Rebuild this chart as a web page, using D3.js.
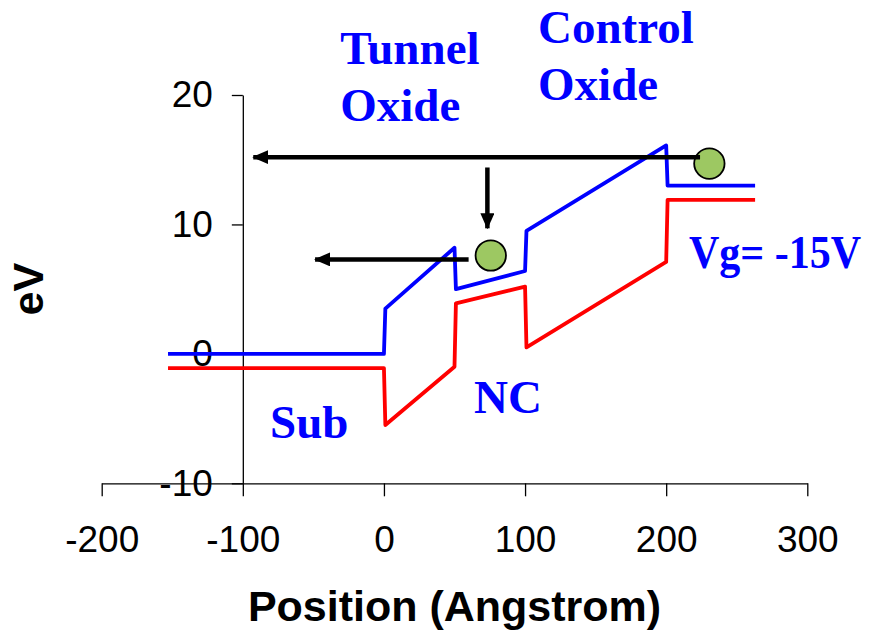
<!DOCTYPE html>
<html>
<head>
<meta charset="utf-8">
<script src="https://cdn.jsdelivr.net/npm/d3@7"></script>
<style>
  body { margin: 0; background: #fff; }
  svg { display: block; }
  .tick text { font-family: "Liberation Sans", Arial, sans-serif; font-size: 37px; fill: #000; }
  .axis path, .axis line { stroke: #000; stroke-width: 1.3px; }
  .lbl { font-family: "Liberation Serif", "Times New Roman", serif; font-weight: bold; font-size: 47px; fill: #0000ff; }
  .title { font-family: "Liberation Sans", Arial, sans-serif; font-weight: bold; font-size: 43px; fill: #000; }
</style>
</head>
<body>
<div id="chart"></div>
<script>
// band edges, [position (Angstrom), energy (eV)]
var conduction = [[-153, 0], [0, 0], [1, 3.5], [50, 8.2], [51, 5.0], [100, 6.4], [101, 9.5], [200, 16.1], [201, 13.0], [263, 13.0]];
var valence = [[-153, -1.1], [0, -1.1], [1, -5.5], [50, -1.0], [51, 3.9], [100, 5.2], [101, 0.5], [200, 7.1], [201, 11.9], [263, 11.9]];

// electrons (green dots)
var dots = [[230.6, 14.7], [75.7, 7.6]];

// arrows: [x1, y1, x2, y2] -> head at (x2, y2)
var arrows = [[224, 15.2, -92.6, 15.2], [60, 7.3, -48.8, 7.3], [73.3, 14.4, 73.3, 9.7]];

var xTicks = [-200, -100, 0, 100, 200, 300];
var yTicks = [-10, 0, 10, 20];

var labels = ["Tunnel", "Oxide", "Control", "Oxide", "Vg= -15V", "Sub", "NC"];
var labelPos = [[-31, 22.4], [-31, 18.0], [109.2, 24.0], [109.2, 19.6], [216.2, 6.6], [-80.7, -6.5], [63.9, -4.57]];

var width = 889, height = 633;

var x = d3.scaleLinear().domain([-200, 300]).range([101.7, 807.3]);
var y = d3.scaleLinear().domain([-10, 20]).range([483.3, 95]);

var svg = d3.select("#chart").append("svg")
	.attr("width", width)
	.attr("height", height);

svg.append("g")
	.attr("class", "axis axis--x")
	.attr("transform", "translate(0," + y(-10) + ")")
	.call(d3.axisBottom(x).tickValues(xTicks).tickFormat(function(d) { return String(d); })
		.tickSize(13).tickSizeOuter(0).tickPadding(29));

svg.append("g")
	.attr("class", "axis axis--y")
	.attr("transform", "translate(" + x(-100) + ",0)")
	.call(d3.axisLeft(y).tickValues(yTicks).tickFormat(function(d) { return String(d); })
		.tickSize(11).tickSizeOuter(0).tickPadding(19));

svg.selectAll(".tick text").attr("fill", "#000");

var line = d3.line().x(function(d) { return x(d[0]); }).y(function(d) { return y(d[1]); });

svg.append("path")
	.datum(valence)
	.attr("fill", "none")
	.attr("stroke", "#ff0000")
	.attr("stroke-width", 3.8)
	.attr("stroke-linejoin", "round")
	.attr("d", line);

svg.append("path")
	.datum(conduction)
	.attr("fill", "none")
	.attr("stroke", "#0000ff")
	.attr("stroke-width", 3.8)
	.attr("stroke-linejoin", "round")
	.attr("d", line);

// dots go under the arrows
svg.selectAll(".dot")
	.data(dots)
	.enter().append("circle")
	.attr("class", "dot")
	.attr("cx", function(d) { return x(d[0]); })
	.attr("cy", function(d) { return y(d[1]); })
	.attr("r", 15.2)
	.attr("fill", "#9dc862")
	.attr("stroke", "#000")
	.attr("stroke-width", 1.8);

svg.append("defs").append("marker")
	.attr("id", "head")
	.attr("markerUnits", "userSpaceOnUse")
	.attr("viewBox", "0 0 16 14")
	.attr("refX", 15)
	.attr("refY", 7)
	.attr("markerWidth", 16)
	.attr("markerHeight", 14)
	.attr("orient", "auto")
	.append("path")
	.attr("d", "M0,0L16,7L0,14Z")
	.attr("fill", "#000");

svg.selectAll(".arrow")
	.data(arrows)
	.enter().append("line")
	.attr("class", "arrow")
	.attr("x1", function(d) { return x(d[0]); })
	.attr("y1", function(d) { return y(d[1]); })
	.attr("x2", function(d) { return x(d[2]); })
	.attr("y2", function(d) { return y(d[3]); })
	.attr("stroke", "#000")
	.attr("stroke-width", 4.5)
	.attr("marker-end", "url(#head)");

svg.selectAll(".lbl")
	.data(labels)
	.enter().append("text")
	.attr("class", "lbl")
	.attr("x", function(d, i) { return x(labelPos[i][0]); })
	.attr("y", function(d, i) { return y(labelPos[i][1]); })
	.text(function(d) { return d; })
	.filter(function(d) { return d.indexOf("Vg") === 0; })
	.attr("textLength", 172)
	.attr("lengthAdjust", "spacingAndGlyphs");

svg.append("text")
	.attr("class", "title")
	.attr("x", (x(-200) + x(300)) / 2)
	.attr("y", 621)
	.attr("text-anchor", "middle")
	.text("Position (Angstrom)");

svg.append("text")
	.attr("class", "title")
	.attr("transform", "translate(43," + (y(-10) + y(20)) / 2 + ") rotate(-90)")
	.attr("text-anchor", "middle")
	.text("eV");
</script>
</body>
</html>
